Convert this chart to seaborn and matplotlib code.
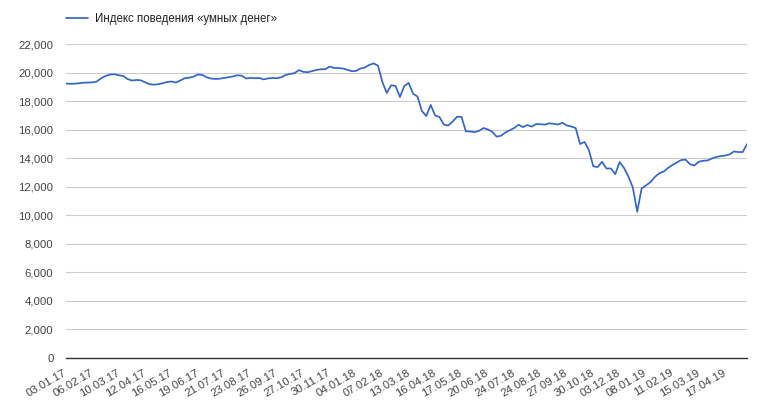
import matplotlib
matplotlib.use("Agg")
import matplotlib.pyplot as plt
import matplotlib.ticker as mticker
import seaborn as sns
import numpy as np
import pandas as pd

# Index values (evenly spaced samples, 6 per label step)
values = [
    19230, 19210, 19220, 19250, 19290, 19300, 19310, 19370, 19600, 19760,
    19860, 19880, 19810, 19760, 19550, 19440, 19480, 19460, 19320, 19180,
    19150, 19180, 19250, 19340, 19370, 19300, 19440, 19600, 19640, 19710,
    19860, 19830, 19670, 19580, 19550, 19570, 19620, 19670, 19730, 19810,
    19780, 19580, 19630, 19600, 19620, 19520, 19590, 19620, 19600, 19670,
    19830, 19900, 19960, 20170, 20050, 20020, 20100, 20180, 20230, 20230,
    20420, 20320, 20320, 20280, 20200, 20100, 20110, 20280, 20350, 20530,
    20640, 20490, 19340, 18570, 19110, 19060, 18290, 19060, 19270, 18510,
    18320, 17300, 16950, 17730, 17000, 16880, 16350, 16290, 16570, 16900,
    16900, 15880, 15870, 15820, 15920, 16110, 16020, 15850, 15510, 15570,
    15800, 15960, 16110, 16340, 16180, 16320, 16210, 16390, 16380, 16350,
    16440, 16410, 16360, 16480, 16290, 16220, 16110, 14990, 15140, 14570,
    13430, 13380, 13750, 13270, 13280, 12880, 13730, 13310, 12710, 11950,
    10250, 11880, 12090, 12320, 12680, 12940, 13060, 13310, 13520, 13700,
    13870, 13900, 13580, 13490, 13750, 13820, 13840, 13980, 14080, 14150,
    14180, 14260, 14470, 14430, 14430, 14990,
]

tick_labels = [
    "03.01.17", "06.02.17", "10.03.17", "12.04.17", "16.05.17", "19.06.17",
    "21.07.17", "23.08.17", "26.09.17", "27.10.17", "30.11.17", "04.01.18",
    "07.02.18", "13.03.18", "16.04.18", "17.05.18", "20.06.18", "24.07.18",
    "24.08.18", "27.09.18", "30.10.18", "03.12.18", "08.01.19", "11.02.19",
    "15.03.19", "17.04.19",
]

series_name = "Индекс поведения «умных денег»"
step = 6  # samples between two date labels

df = pd.DataFrame({"pos": np.arange(len(values)), "value": values})

sns.set_style("white")
plt.rcParams["font.family"] = ["Liberation Sans", "DejaVu Sans"]

fig = plt.figure(figsize=(7.61, 4.12), dpi=100)
ax = fig.add_axes([0.0867, 0.1311, 0.895, 0.7621])

sns.lineplot(data=df, x="pos", y="value", ax=ax, color="#3366cc", lw=1.25, label=series_name)

ax.set_xlim(0, len(values) - 1)
ax.set_ylim(0, 22000)
ax.set_yticks(np.arange(0, 22001, 2000))
ax.yaxis.set_major_formatter(mticker.FuncFormatter(lambda v, p: f"{v:,.0f}"))
ax.set_xticks(np.arange(len(tick_labels)) * step)
ax.set_xticklabels(tick_labels, rotation=30, ha="right", va="center", rotation_mode="anchor")
ax.set_xlabel("")
ax.set_ylabel("")

ax.yaxis.grid(True, color="#cccccc", lw=0.8)
ax.xaxis.grid(False)
ax.set_axisbelow(True)
for side in ["top", "left", "right"]:
    ax.spines[side].set_visible(False)
ax.spines["bottom"].set_color("#333333")
ax.spines["bottom"].set_linewidth(1.0)
ax.spines["bottom"].set_zorder(3)

ax.tick_params(axis="y", length=0, pad=9, labelsize=8.2, labelcolor="#444444")
ax.tick_params(axis="x", length=0, pad=10, labelsize=8.2, labelcolor="#444444")

ax.legend(loc="center left", bbox_to_anchor=(0, 1.08), frameon=False, fontsize=8.3,
          handlelength=1.95, handletextpad=0.55, borderpad=0, borderaxespad=0,
          labelcolor="#222222")

fig.savefig("out.png", dpi=100)
